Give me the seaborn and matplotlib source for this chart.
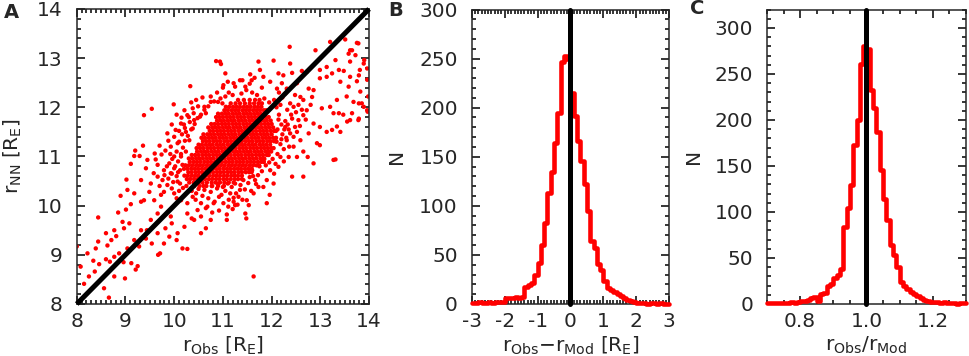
import numpy as np
import pandas as pd
import matplotlib
matplotlib.use("Agg")
import matplotlib.pyplot as plt
import seaborn as sns
from matplotlib.ticker import MultipleLocator, FormatStrFormatter

# ---------------- Panel A: r_Obs vs r_NN scatter ----------------
# dense core of the cloud, row by row (y level, x values)
core_row_y = [10.40, 10.47, 10.54, 10.61, 10.68, 10.75, 10.82, 10.89, 10.96, 11.03,
              11.10, 11.17, 11.24, 11.31, 11.38, 11.45, 11.52, 11.59, 11.66, 11.73,
              11.80, 11.87, 11.94, 12.01, 12.08, 12.15]
core_row_x = [
    [10.41, 10.52, 10.66, 10.77, 10.90, 11.02],
    [10.31, 10.40, 10.50, 10.58, 10.67, 10.77, 10.85, 10.94, 11.03, 11.12, 11.22],
    [10.26, 10.33, 10.41, 10.48, 10.56, 10.63, 10.71, 10.78, 10.86, 10.93, 11.01, 11.08, 11.16, 11.24, 11.31, 11.39],
    [10.21, 10.28, 10.36, 10.43, 10.50, 10.58, 10.65, 10.72, 10.80, 10.87, 10.94, 11.02, 11.09, 11.17, 11.24, 11.31, 11.39],
    [10.29, 10.36, 10.44, 10.51, 10.58, 10.66, 10.73, 10.80, 10.88, 10.95, 11.02, 11.10, 11.17, 11.24, 11.32, 11.39, 11.47, 11.54, 11.59],
    [10.20, 10.27, 10.35, 10.42, 10.49, 10.57, 10.64, 10.71, 10.79, 10.86, 10.93, 11.01, 11.08, 11.15, 11.23, 11.30, 11.37, 11.45, 11.52, 11.59],
    [10.23, 10.30, 10.37, 10.45, 10.52, 10.59, 10.67, 10.74, 10.81, 10.89, 10.96, 11.03, 11.11, 11.18, 11.25, 11.33, 11.40, 11.47, 11.55, 11.62, 11.69, 11.74],
    [10.32, 10.40, 10.47, 10.54, 10.62, 10.69, 10.76, 10.84, 10.91, 10.98, 11.06, 11.13, 11.20, 11.28, 11.35, 11.42, 11.50, 11.57, 11.64, 11.72, 11.79, 11.84],
    [10.30, 10.37, 10.45, 10.52, 10.59, 10.67, 10.74, 10.81, 10.89, 10.96, 11.03, 11.11, 11.18, 11.25, 11.33, 11.40, 11.47, 11.55, 11.62, 11.69, 11.77, 11.84],
    [10.36, 10.43, 10.50, 10.58, 10.65, 10.72, 10.80, 10.87, 10.94, 11.02, 11.09, 11.16, 11.24, 11.31, 11.38, 11.46, 11.53, 11.60, 11.68, 11.75, 11.82, 11.90, 11.94],
    [10.47, 10.55, 10.62, 10.69, 10.77, 10.84, 10.91, 10.99, 11.06, 11.13, 11.21, 11.28, 11.35, 11.43, 11.50, 11.57, 11.65, 11.72, 11.79, 11.87, 11.94, 11.99],
    [10.46, 10.53, 10.60, 10.68, 10.75, 10.82, 10.90, 10.97, 11.04, 11.12, 11.19, 11.26, 11.34, 11.41, 11.48, 11.56, 11.63, 11.70, 11.78, 11.85, 11.92, 11.99, 12.04],
    [10.50, 10.57, 10.65, 10.72, 10.79, 10.87, 10.94, 11.01, 11.09, 11.16, 11.23, 11.31, 11.38, 11.45, 11.53, 11.60, 11.67, 11.75, 11.82, 11.89, 11.97],
    [10.59, 10.66, 10.73, 10.81, 10.88, 10.95, 11.03, 11.10, 11.17, 11.25, 11.32, 11.39, 11.47, 11.54, 11.61, 11.69, 11.76, 11.83, 11.91, 11.98, 12.05, 12.09],
    [10.56, 10.63, 10.71, 10.78, 10.85, 10.93, 11.00, 11.07, 11.15, 11.22, 11.29, 11.37, 11.44, 11.51, 11.59, 11.66, 11.73, 11.81, 11.88, 11.95, 12.03, 12.09],
    [10.60, 10.68, 10.75, 10.82, 10.90, 10.97, 11.04, 11.12, 11.19, 11.26, 11.34, 11.41, 11.48, 11.56, 11.63, 11.70, 11.78, 11.85, 11.92, 12.00],
    [10.73, 10.80, 10.88, 10.95, 11.02, 11.10, 11.17, 11.24, 11.32, 11.39, 11.46, 11.54, 11.61, 11.68, 11.76, 11.83, 11.90, 11.98, 12.05, 12.09],
    [10.70, 10.78, 10.85, 10.92, 11.00, 11.07, 11.14, 11.22, 11.29, 11.36, 11.44, 11.51, 11.58, 11.66, 11.73, 11.80, 11.88, 11.95, 12.03],
    [10.76, 10.83, 10.90, 10.98, 11.05, 11.12, 11.20, 11.27, 11.34, 11.42, 11.49, 11.56, 11.64, 11.71, 11.78, 11.86, 11.93, 12.00],
    [10.88, 10.95, 11.02, 11.10, 11.17, 11.24, 11.32, 11.39, 11.46, 11.54, 11.61, 11.68, 11.76, 11.83, 11.90, 11.98],
    [10.86, 10.93, 11.00, 11.08, 11.15, 11.22, 11.30, 11.37, 11.44, 11.52, 11.59, 11.66, 11.74, 11.81, 11.88, 11.94],
    [10.90, 10.98, 11.05, 11.12, 11.20, 11.27, 11.34, 11.42, 11.49, 11.56, 11.64, 11.71, 11.78, 11.86],
    [11.03, 11.10, 11.18, 11.25, 11.32, 11.40, 11.47, 11.54, 11.62, 11.69, 11.76, 11.84, 11.89],
    [11.06, 11.13, 11.21, 11.28, 11.35, 11.43, 11.50, 11.57, 11.65, 11.72, 11.79],
    [11.16, 11.26, 11.35, 11.45, 11.55, 11.64, 11.73, 11.80],
    [11.31, 11.43, 11.55, 11.66, 11.75],
]

# individual points around the core (x = r_Obs, y = r_NN)
tail_lower_left = [
    (8.00, 9.17), (8.44, 9.27), (8.39, 9.13), (8.63, 9.19), (8.71, 9.30), (8.81, 9.38), (8.77, 8.96),
    (8.68, 8.86), (8.60, 8.91), (8.34, 8.88), (8.46, 8.81), (8.37, 8.66), (8.15, 8.41), (8.56, 8.32),
    (8.66, 8.13), (8.99, 8.52), (9.21, 8.70), (9.25, 8.77), (9.12, 8.83), (8.96, 8.85), (9.18, 9.30),
    (9.28, 9.17), (9.42, 9.33), (9.52, 9.71), (8.77, 9.50), (8.60, 9.44), (8.22, 9.03), (8.08, 8.76),
    (8.25, 8.56), (8.77, 8.56), (8.87, 9.03), (9.04, 9.13), (9.54, 9.23), (8.94, 9.67), (8.97, 9.54),
    (9.08, 9.64), (9.32, 9.50), (9.44, 9.50), (8.85, 9.86), (8.44, 9.76), (8.90, 10.20), (9.01, 9.92),
    (9.11, 10.03), (9.32, 10.08), (9.38, 10.11), (9.18, 10.25), (9.04, 10.32), (9.02, 10.53), (9.32, 10.52),
    (9.52, 10.45), (9.42, 10.76), (9.58, 10.66), (9.45, 10.93), (9.36, 11.22), (9.20, 11.12), (9.18, 11.01),
    (9.11, 10.85), (9.29, 11.01), (9.38, 11.84), (9.54, 11.97), (9.49, 10.28), (9.59, 10.11),
]
halo_left = [
    (9.60, 11.06), (9.74, 11.04), (9.66, 10.83), (9.62, 10.94), (9.76, 10.52), (9.66, 10.59), (9.79, 10.72),
    (9.90, 10.86), (10.00, 11.00), (9.93, 11.20), (10.07, 11.27), (9.86, 10.42), (10.00, 10.25), (9.79, 10.28),
    (10.07, 10.49), (10.14, 10.11), (10.27, 10.05), (10.38, 10.18), (9.93, 9.78), (9.73, 9.98), (9.73, 10.22),
    (9.66, 9.84), (9.82, 9.54), (9.95, 9.64), (10.27, 9.84), (10.21, 9.57), (10.07, 9.44), (9.66, 9.44),
    (9.79, 9.23), (9.90, 9.37), (9.71, 9.03), (9.67, 9.00), (10.05, 9.30), (10.17, 9.13), (10.27, 9.12),
    (9.93, 10.66), (10.00, 10.76), (10.14, 11.00), (10.24, 11.10), (10.17, 10.83), (10.31, 11.33), (10.24, 11.50),
    (10.38, 11.57), (10.03, 11.54), (10.14, 11.67), (9.86, 11.47), (9.99, 12.06), (10.21, 11.94), (10.38, 11.98),
    (10.15, 11.79), (10.27, 11.84), (10.33, 12.43), (10.05, 10.60), (10.12, 10.72), (10.08, 10.90), (10.14, 11.05),
    (10.18, 11.18), (10.22, 11.32), (10.28, 11.42), (10.35, 11.55), (10.02, 10.80), (9.95, 10.65), (9.96, 10.95),
    (10.05, 11.10), (10.10, 11.30), (10.16, 11.45), (10.22, 11.58), (10.32, 11.70), (10.12, 10.45), (10.18, 10.36),
    (10.25, 10.40), (9.88, 10.55), (9.85, 10.80), (9.92, 11.05), (9.70, 10.40), (9.80, 10.62), (9.95, 10.35),
    (10.05, 10.15), (10.10, 10.30), (9.98, 10.48), (10.08, 10.68), (9.82, 11.12), (9.70, 11.22), (9.88, 11.32),
    (10.00, 11.40), (10.10, 11.52), (10.20, 11.65), (10.30, 11.80), (9.95, 11.65), (10.05, 11.85), (10.45, 12.15),
    (10.58, 12.20), (10.35, 12.10),
]
halo_below = [
    (10.48, 9.91), (10.55, 9.78), (10.75, 9.71), (10.81, 10.05), (10.68, 9.98), (10.36, 9.74), (10.41, 9.71),
    (10.55, 9.44), (10.65, 9.54), (10.62, 10.32), (10.75, 10.28), (10.88, 10.35), (10.97, 10.22), (11.05, 10.30),
    (11.18, 10.38), (11.27, 10.25), (11.36, 10.42), (11.45, 10.33), (11.52, 10.46), (10.70, 10.15), (10.83, 10.08),
    (10.92, 10.18), (11.01, 10.05), (11.12, 10.12), (11.22, 10.16), (11.30, 10.02), (11.40, 10.12), (10.58, 10.20),
    (10.50, 10.34), (10.44, 10.12), (10.36, 10.30), (10.65, 9.95), (10.92, 9.90), (11.08, 9.82), (11.20, 9.93),
    (10.78, 9.86), (10.55, 10.05), (11.58, 10.30), (11.66, 10.52), (11.72, 10.62), (11.80, 10.70), (11.62, 10.60),
    (11.88, 10.82), (11.55, 10.58), (11.68, 10.44), (11.97, 10.72), (11.90, 10.52), (12.04, 10.45), (11.83, 10.38),
    (11.96, 10.22), (11.90, 10.05), (11.73, 10.38), (11.63, 10.25), (11.49, 10.11), (11.53, 10.01), (11.48, 9.74),
    (11.46, 9.84), (11.32, 10.18), (11.25, 10.01), (11.11, 9.98), (11.08, 9.71), (11.22, 10.08), (11.35, 10.32),
    (11.15, 10.25), (11.63, 8.56), (10.45, 10.25), (10.60, 10.40), (10.78, 10.40), (11.00, 10.38), (11.25, 10.45),
    (11.42, 10.52), (11.60, 10.72), (11.75, 10.80), (11.85, 10.95), (10.90, 10.45), (11.10, 10.45),
]
halo_above = [
    (10.86, 12.94), (10.96, 12.88), (10.49, 12.02), (10.62, 12.01), (10.75, 12.11), (10.90, 12.11), (10.99, 12.08),
    (10.41, 11.74), (10.53, 11.81), (10.65, 11.88), (10.42, 11.66), (10.48, 11.78), (10.55, 11.85), (10.62, 11.95),
    (10.70, 12.02), (10.40, 11.88), (10.82, 12.12), (10.95, 12.18), (11.05, 12.22), (11.12, 12.30), (11.20, 12.25),
    (11.38, 12.28), (11.48, 12.35), (11.60, 12.30), (11.70, 12.25), (11.85, 12.18), (11.95, 12.10), (11.00, 12.40),
    (11.25, 12.42), (11.55, 12.48), (11.80, 12.40), (10.88, 12.30), (11.40, 12.55), (11.65, 12.60), (11.10, 12.52),
    (10.75, 12.22), (11.73, 12.93), (12.04, 12.95), (11.76, 12.76), (11.59, 12.55), (11.56, 12.67), (11.83, 12.62),
    (11.97, 12.52), (11.35, 12.55), (11.22, 12.49), (11.46, 12.42), (11.01, 12.45), (10.94, 12.93), (11.05, 12.69),
]
halo_right = [
    (12.12, 11.05), (12.18, 11.25), (12.22, 11.45), (12.20, 11.65), (12.15, 11.85), (12.10, 12.00), (12.05, 12.15),
    (12.25, 11.15), (12.30, 11.38), (12.28, 11.72), (12.32, 11.95), (12.22, 12.20), (12.02, 10.95), (11.95, 10.88),
    (12.08, 10.85), (12.35, 11.55), (12.40, 11.85), (12.38, 12.08), (12.45, 11.40), (12.15, 12.30), (12.14, 12.69),
    (12.21, 12.49), (12.31, 12.38), (12.11, 12.38), (12.24, 12.65), (12.42, 12.70), (12.37, 13.23), (12.38, 12.89),
    (12.45, 12.01), (12.42, 11.77), (12.52, 11.50), (12.59, 11.33), (12.45, 11.20), (12.52, 10.99), (12.35, 10.99),
    (12.31, 11.33), (12.38, 11.47), (12.28, 11.60), (12.18, 10.99), (12.14, 10.79), (12.42, 10.59), (12.55, 11.74),
    (12.20, 11.35), (12.26, 11.55), (12.33, 11.65), (12.12, 11.55), (12.14, 11.75), (12.18, 12.05), (12.28, 12.28),
    (12.48, 12.25), (12.55, 12.05), (12.62, 11.95), (12.50, 11.90), (12.58, 11.62), (12.70, 11.75), (12.80, 12.05),
    (12.48, 11.60), (12.36, 11.20), (12.25, 10.90), (12.05, 10.65), (12.10, 11.30),
]
tail_upper_right = [
    (13.20, 13.33), (13.51, 13.38), (13.75, 13.31), (12.90, 13.16), (13.31, 12.96), (13.58, 13.09), (13.65, 13.16),
    (13.72, 13.06), (13.90, 12.96), (13.96, 12.79), (13.81, 12.76), (13.61, 12.93), (13.13, 12.82), (12.99, 12.76),
    (12.72, 12.72), (12.62, 12.74), (12.99, 12.59), (13.13, 12.62), (13.24, 12.69), (13.38, 12.76), (13.48, 12.74),
    (13.41, 12.52), (13.58, 12.42), (13.68, 12.11), (13.79, 12.08), (13.34, 12.15), (13.20, 12.01), (13.03, 11.98),
    (13.27, 11.88), (13.38, 11.88), (13.55, 11.71), (13.61, 11.74), (13.79, 11.77), (13.41, 11.50), (13.24, 11.54),
    (13.13, 11.50), (12.86, 11.67), (12.99, 11.60), (12.93, 11.27), (12.99, 11.23), (12.65, 12.15), (12.76, 12.38),
    (12.86, 12.35), (12.83, 12.21), (12.52, 12.49), (12.59, 12.21), (12.72, 11.94), (12.65, 11.84), (12.76, 11.47),
    (12.65, 11.10), (12.74, 10.99), (12.65, 10.59), (13.31, 10.94), (12.86, 10.86), (13.79, 12.65), (13.85, 12.08),
    (13.96, 11.94), (13.61, 12.62), (13.78, 13.30), (13.61, 13.16), (13.89, 12.89), (13.96, 12.56), (13.75, 12.53),
    (13.82, 12.32), (13.54, 12.22), (13.98, 12.22), (13.65, 11.88), (13.89, 12.01), (13.97, 11.91), (13.47, 11.85),
    (13.34, 11.61), (13.78, 11.74), (13.27, 10.93),
]
one_to_one = [8, 14]

# ---------------- Panel B: histogram of r_Obs - r_Mod ----------------
b_start, b_width = -3.0, 0.1
b_counts = [1, 1, 2, 1, 1, 2, 1, 2, 2, 2,
            6, 6, 6, 7, 6, 7, 17, 19, 21, 30,
            42, 60, 82, 113, 134, 164, 195, 247, 253, 250,
            215, 192, 166, 146, 122, 95, 64, 57, 41, 35,
            23, 16, 14, 12, 10, 8, 6, 4, 3, 2,
            1, 1, 1, 0, 1, 1, 0, 1, 0, 0]
b_ref = 0.0

# ---------------- Panel C: histogram of r_Obs / r_Mod ----------------
c_start, c_width = 0.70, 0.01
c_counts = [1, 1, 1, 1, 1, 1, 1, 2, 1, 2,
            3, 3, 4, 7, 8, 3, 11, 12, 20, 22,
            28, 32, 38, 84, 104, 129, 173, 200, 261, 280,
            277, 232, 213, 187, 146, 114, 91, 64, 53, 40,
            24, 20, 16, 13, 11, 9, 6, 4, 3, 2,
            2, 2, 1, 2, 1, 1, 1, 0, 1, 1]
c_ref = 1.0

# ---------------- build tables ----------------
pts_x, pts_y = [], []
for yv, row in zip(core_row_y, core_row_x):
    pts_x += row
    pts_y += [yv] * len(row)
for group in (tail_lower_left, halo_left, halo_below, halo_above, halo_right, tail_upper_right):
    pts_x += [p[0] for p in group]
    pts_y += [p[1] for p in group]
scatter_df = pd.DataFrame({"obs": pts_x, "nn": pts_y})


def step_table(start, width, counts):
    edges = start + width * np.arange(len(counts) + 1)
    return pd.DataFrame({"edge": edges, "n": list(counts) + [counts[-1]]})


b_df = step_table(b_start, b_width, b_counts)
c_df = step_table(c_start, c_width, c_counts)

# ---------------- style ----------------
sns.set_style("ticks")
plt.rcParams["font.family"] = ["DejaVu Sans"]
plt.rcParams["mathtext.fontset"] = "dejavusans"
plt.rcParams["axes.unicode_minus"] = False
plt.rcParams["axes.linewidth"] = 1.1

FS = 14.5
fig = plt.figure(figsize=(9.69, 3.56), dpi=100)
axA = fig.add_axes([0.0792, 0.1461, 0.3017, 0.8287])
axB = fig.add_axes([0.4868, 0.1461, 0.2039, 0.8272])
axC = fig.add_axes([0.7915, 0.1461, 0.2054, 0.8272])

# Panel A
sns.scatterplot(data=scatter_df, x="obs", y="nn", s=10, color="#ff0000",
                edgecolor="none", linewidth=0, ax=axA, zorder=2)
sns.lineplot(x=one_to_one, y=one_to_one, color="black", linewidth=3.6,
             estimator=None, sort=False, ax=axA, zorder=4)
for ln in axA.lines:
    ln.set_clip_on(False)
    ln.set_solid_capstyle("butt")
axA.set_xlim(8, 14)
axA.set_ylim(8, 14)
axA.xaxis.set_major_locator(MultipleLocator(1))
axA.xaxis.set_minor_locator(MultipleLocator(0.1))
axA.yaxis.set_major_locator(MultipleLocator(1))
axA.yaxis.set_minor_locator(MultipleLocator(0.2))
axA.set_xlabel(r"r$_{\rm Obs}$ [R$_{\rm E}$]", fontsize=FS)
axA.set_ylabel(r"r$_{\rm NN}$ [R$_{\rm E}$]", fontsize=FS)

# Panel B
sns.lineplot(data=b_df, x="edge", y="n", drawstyle="steps-post", color="#ff0000",
             linewidth=3.3, estimator=None, sort=False, ax=axB)
for ln in axB.lines:
    ln.set_clip_on(False)
    ln.set_zorder(3)
axB.axvline(b_ref, color="black", linewidth=3.6, zorder=4, clip_on=False)
axB.set_xlim(-3, 3)
axB.set_ylim(0, 300)
axB.xaxis.set_major_locator(MultipleLocator(1))
axB.xaxis.set_minor_locator(MultipleLocator(0.1))
axB.yaxis.set_major_locator(MultipleLocator(50))
axB.yaxis.set_minor_locator(MultipleLocator(10))
axB.set_xlabel(r"r$_{\rm Obs}$$-$r$_{\rm Mod}$ [R$_{\rm E}$]", fontsize=FS)
axB.set_ylabel("N", fontsize=FS)

# Panel C
sns.lineplot(data=c_df, x="edge", y="n", drawstyle="steps-post", color="#ff0000",
             linewidth=3.3, estimator=None, sort=False, ax=axC)
for ln in axC.lines:
    ln.set_clip_on(False)
    ln.set_zorder(3)
axC.axvline(c_ref, color="black", linewidth=3.6, zorder=4, clip_on=False)
axC.set_xlim(0.7, 1.3)
axC.set_ylim(0, 320)
axC.xaxis.set_major_locator(MultipleLocator(0.2))
axC.xaxis.set_minor_locator(MultipleLocator(0.05))
axC.xaxis.set_major_formatter(FormatStrFormatter("%.1f"))
axC.yaxis.set_major_locator(MultipleLocator(50))
axC.yaxis.set_minor_locator(MultipleLocator(10))
axC.set_xlabel(r"r$_{\rm Obs}$/r$_{\rm Mod}$", fontsize=FS)
axC.set_ylabel("N", fontsize=FS)

for ax in (axA, axB, axC):
    ax.tick_params(which="both", direction="in", top=True, right=True,
                   width=1.1, color="black", labelsize=FS)
    ax.tick_params(axis="x", which="major", pad=6)
    ax.tick_params(axis="y", which="major", pad=10)
    ax.tick_params(which="major", length=5.5)
    ax.tick_params(which="minor", length=2.8)
    for sp in ax.spines.values():
        sp.set_visible(True)
        sp.set_linewidth(1.1)
        sp.set_zorder(2.5)

# label placement (axes fractions); y-label anchor is its right-hand edge
axA.yaxis.set_label_coords(-0.18, 0.5)
axB.yaxis.set_label_coords(-0.332, 0.5)
axC.yaxis.set_label_coords(-0.322, 0.5)
for ax in (axA, axB, axC):
    ax.xaxis.set_label_coords(0.5, -0.105)

fig.text(11 / 969, 1 - 12.5 / 356, "A", fontsize=14, fontweight="bold", ha="center", va="center")
fig.text(396 / 969, 1 - 10.5 / 356, "B", fontsize=14, fontweight="bold", ha="center", va="center")
fig.text(697 / 969, 1 - 9 / 356, "C", fontsize=14, fontweight="bold", ha="center", va="center")

fig.savefig("out.png", dpi=100)
